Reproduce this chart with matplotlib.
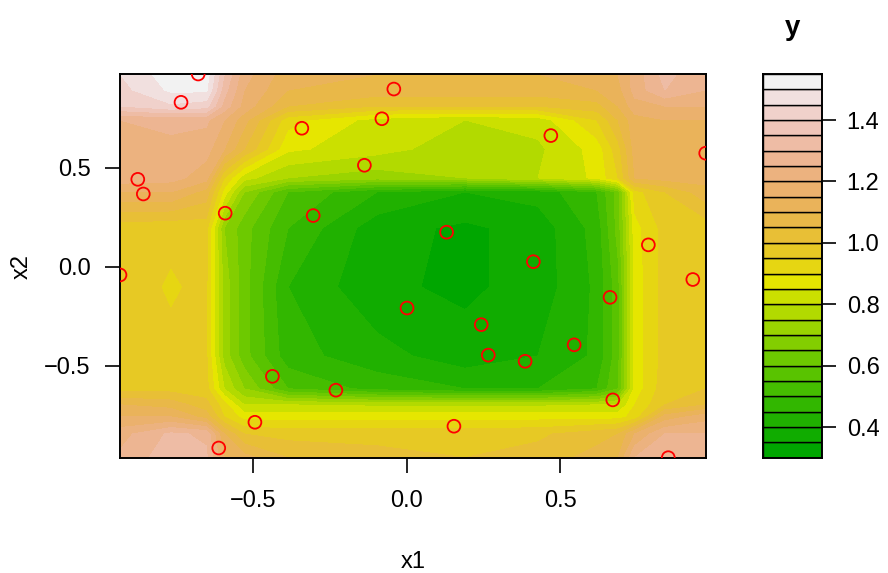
import colorsys
import matplotlib.pyplot as plt
import numpy as np

plt.rcParams['font.family'] = ['Liberation Sans', 'DejaVu Sans']

# observed design points
x1_pts = [-0.680, -0.736, -0.042, -0.081, -0.342, 0.470, -0.138, 0.975, -0.877, -0.859,
          -0.592, -0.305, 0.130, 0.788, 0.413, -0.935, 0.933, 0.663, 0.001, 0.243,
          0.546, 0.266, 0.386, -0.438, -0.231, 0.672, -0.495, 0.154, -0.613, 0.853]
x2_pts = [0.973, 0.830, 0.897, 0.747, 0.699, 0.662, 0.512, 0.573, 0.441, 0.367,
          0.270, 0.258, 0.174, 0.110, 0.025, -0.042, -0.065, -0.155, -0.209, -0.293,
          -0.395, -0.447, -0.478, -0.554, -0.624, -0.673, -0.786, -0.806, -0.916, -0.965]

# prediction surface, rows go from bottom to top
grid_x1 = [-0.935, -0.769, -0.654, -0.595, -0.530, -0.387, -0.097, 0.190, 0.428, 0.620,
           0.689, 0.744, 0.842, 0.975]
grid_x2 = [-0.965, -0.845, -0.759, -0.698, -0.617, -0.451, -0.102, 0.195, 0.377, 0.448,
           0.594, 0.741, 0.811, 0.892, 0.973]
y_grid = [
    [1.26, 1.33, 1.31, 1.15, 1.12, 1.05, 1.02, 1.00, 1.02, 1.07, 1.10, 1.25, 1.28, 1.27],
    [1.23, 1.31, 1.29, 1.10, 1.00, 0.98, 0.98, 0.98, 0.99, 1.03, 1.05, 1.15, 1.25, 1.25],
    [1.15, 1.15, 1.08, 0.95, 0.88, 0.88, 0.88, 0.88, 0.88, 0.88, 0.88, 0.92, 1.12, 1.18],
    [1.10, 1.08, 1.02, 0.92, 0.80, 0.80, 0.79, 0.79, 0.79, 0.80, 0.80, 0.90, 1.00, 1.05],
    [0.98, 0.98, 0.97, 0.80, 0.70, 0.55, 0.48, 0.45, 0.45, 0.50, 0.60, 0.87, 0.98, 1.00],
    [0.97, 0.96, 0.96, 0.73, 0.62, 0.47, 0.42, 0.37, 0.40, 0.46, 0.58, 0.87, 0.97, 0.98],
    [0.97, 0.945, 0.96, 0.73, 0.62, 0.45, 0.36, 0.34, 0.37, 0.46, 0.58, 0.87, 0.97, 0.98],
    [0.97, 0.96, 0.97, 0.70, 0.62, 0.50, 0.37, 0.34, 0.37, 0.47, 0.62, 0.88, 0.97, 0.97],
    [1.15, 1.15, 1.08, 0.88, 0.70, 0.55, 0.45, 0.40, 0.42, 0.50, 0.62, 0.93, 1.00, 1.08],
    [1.23, 1.22, 1.17, 0.95, 0.82, 0.75, 0.72, 0.75, 0.80, 0.86, 0.95, 1.10, 1.12, 1.12],
    [1.24, 1.24, 1.22, 1.15, 1.05, 0.86, 0.82, 0.77, 0.79, 0.87, 0.98, 1.12, 1.13, 1.13],
    [1.25, 1.26, 1.26, 1.20, 1.12, 0.92, 0.83, 0.80, 0.82, 0.95, 1.05, 1.13, 1.15, 1.15],
    [1.40, 1.44, 1.42, 1.28, 1.18, 1.05, 1.00, 1.00, 1.00, 1.03, 1.10, 1.18, 1.20, 1.20],
    [1.43, 1.51, 1.51, 1.32, 1.20, 1.10, 1.08, 1.08, 1.08, 1.10, 1.13, 1.22, 1.30, 1.25],
    [1.45, 1.53, 1.53, 1.35, 1.22, 1.12, 1.10, 1.10, 1.10, 1.12, 1.15, 1.22, 1.32, 1.25],
]

levels = np.linspace(0.30, 1.55, 26)
key_ticks = [0.4, 0.6, 0.8, 1.0, 1.2, 1.4]


def terrain_colors(n):
    # same recipe as R's terrain.colors()
    k = n // 2
    cols = []
    for i in range(k):
        t = i / (k - 1)
        cols.append(colorsys.hsv_to_rgb(4/12 - 2/12 * t, 1.0, 0.65 + 0.25 * t))
    m = n - k
    for j in range(1, m + 1):
        t = j / m
        cols.append(colorsys.hsv_to_rgb(2/12 * (1 - t), 1 - t, 0.90 + 0.05 * t))
    return cols


cols = terrain_colors(len(levels) - 1)

W, H = 888, 573
fig = plt.figure(figsize=(W / 100, H / 100), dpi=100)
ax = fig.add_axes([120 / W, 1 - 457.7 / H, 585.7 / W, 383.7 / H])
cax = fig.add_axes([763.3 / W, 1 - 457.7 / H, 58.4 / W, 383.7 / H])

ax.contourf(grid_x1, grid_x2, np.array(y_grid), levels=levels, colors=cols)
ax.scatter(x1_pts, x2_pts, s=85, facecolors='none', edgecolors='red', linewidths=1.3, zorder=3)
ax.set_xlim(grid_x1[0], grid_x1[-1])
ax.set_ylim(grid_x2[0], grid_x2[-1])
ax.set_xticks([-0.5, 0.0, 0.5])
ax.set_yticks([-0.5, 0.0, 0.5])
ax.tick_params(axis='x', length=11, width=1.2, labelsize=17, pad=12)
ax.tick_params(axis='y', length=11, width=1.2, labelsize=17, pad=10)
for sp in ax.spines.values():
    sp.set_linewidth(1.4)

fig.text(413 / W, 1 - 562 / H, 'x1', ha='center', va='center', fontsize=17)
fig.text(22 / W, 1 - 266.7 / H, 'x2', ha='center', va='center', rotation=90, fontsize=17)

# colour key
cax.bar(0, np.diff(levels), bottom=levels[:-1], width=1, color=cols,
        edgecolor='black', linewidth=1.0)
cax.set_xlim(-0.5, 0.5)
cax.set_ylim(levels[0], levels[-1])
cax.set_xticks([])
cax.yaxis.tick_right()
cax.set_yticks(key_ticks)
cax.set_yticklabels([f'{t:.1f}' for t in key_ticks])
cax.tick_params(axis='y', length=10, width=1.2, labelsize=17, pad=8)
for sp in cax.spines.values():
    sp.set_linewidth(1.4)
cax.set_title('y', fontsize=20, fontweight='bold', pad=28)

fig.savefig('out.png', dpi=100)
